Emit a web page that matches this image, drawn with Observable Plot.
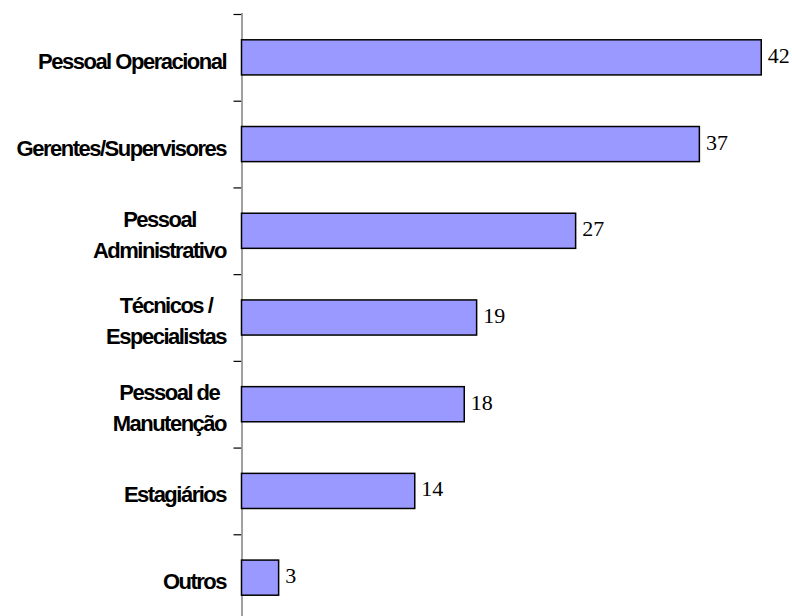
<!DOCTYPE html>
<html>
<head>
<meta charset="utf-8">
<script src="https://cdn.jsdelivr.net/npm/d3@7"></script>
<script src="https://cdn.jsdelivr.net/npm/@observablehq/plot@0.6"></script>
<style>
  html, body { margin: 0; padding: 0; background: #fff; }
</style>
</head>
<body>
<script>
const categories = [
  "Pessoal Operacional",
  "Gerentes/Supervisores",
  "Pessoal\nAdministrativo",
  "Técnicos /\nEspecialistas",
  "Pessoal de\nManutenção",
  "Estagiários",
  "Outros"
];
const values = [42, 37, 27, 19, 18, 14, 3];

const data = categories.map((c, i) => ({cat: c, value: values[i]}));

const yRange = [14, 621];
const bw = (yRange[1] - yRange[0]) / categories.length;

const chart = Plot.plot({
  width: 792,
  height: 616,
  marginTop: 13,
  marginBottom: 0,
  marginLeft: 241.5,
  marginRight: 6,
  style: {background: "#fff"},
  x: {domain: [0, 44], axis: null},
  y: {domain: categories, range: yRange, padding: 0, round: false, axis: null},
  marks: [
    Plot.axisY({
      tickSize: 8,
      tickFormat: () => "",
      label: null,
      dy: -bw / 2,
      stroke: "#000",
      strokeWidth: 1.2
    }),
    Plot.ruleX([0], {stroke: "#808080", strokeWidth: 1.5}),
    Plot.barX(data, {
      x: "value",
      y: "cat",
      fill: "#9999ff",
      stroke: "#000",
      strokeWidth: 1.5,
      insetTop: 25.8,
      insetBottom: 25.8
    }),
    Plot.text(data, {
      x: "value",
      y: "cat",
      text: d => String(d.value),
      textAnchor: "start",
      dx: 6,
      dy: -2,
      fontFamily: "Liberation Serif",
      fontSize: 22,
      fill: "#000"
    }),
    Plot.text(categories, {
      y: d => d,
      text: d => d,
      frameAnchor: "left",
      textAnchor: "end",
      dx: -16,
      dy: 1,
      lineHeight: 1.41,
      fontFamily: "Liberation Sans",
      fontWeight: "bold",
      fontSize: 22,
      fill: "#000"
    })
  ]
});

document.body.append(chart);

const textGroups = chart.querySelectorAll('g[aria-label="text"]');
const g = textGroups[textGroups.length - 1];
if (g) {
  g.querySelectorAll("text").forEach(t => {
    t.style.letterSpacing = "-1.5px";
    const spans = t.querySelectorAll("tspan");
    if (spans.length > 1) {
      const widths = [...spans].map(s => s.getComputedTextLength());
      const w = Math.max(...widths);
      t.setAttribute("text-anchor", "middle");
      spans.forEach(s => s.setAttribute("x", -w / 2));
    }
  });
}
</script>
</body>
</html>
